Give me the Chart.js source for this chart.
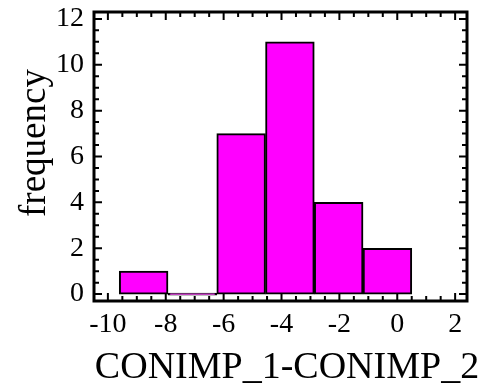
<!DOCTYPE html>
<html>
<head>
<meta charset="utf-8">
<script src="https://cdn.jsdelivr.net/npm/chart.js@4/dist/chart.umd.min.js"></script>
<style>
  html, body { margin: 0; padding: 0; background: #ffffff; }
  #wrap { width: 492px; height: 391px; }
</style>
</head>
<body>
<div id="wrap"><canvas id="histChart" width="492" height="391"></canvas></div>
<script>
// histogram bins
const binEdges = [-9.61, -7.92, -6.24, -4.55, -2.87, -1.18, 0.5];
const binCounts = [1, 0, 7, 11, 4, 2];
const xTicks = [-10, -8, -6, -4, -2, 0, 2];
const yTicks = [0, 2, 4, 6, 8, 10, 12];
const xTitle = 'CONIMP_1-CONIMP_2';
const yTitle = 'frequency';

const serif = "'Liberation Serif', 'DejaVu Serif', serif";

const barPoints = binCounts.map(function (c, i) {
  return { x: (binEdges[i] + binEdges[i + 1]) / 2, y: c };
});

// frame, inward tick marks on all four sides, axis titles
const framePlugin = {
  id: 'frame',
  afterDatasetsDraw(chart) {
    const ctx = chart.ctx;
    const a = chart.chartArea;
    const xs = chart.scales.x;
    const ys = chart.scales.y;
    ctx.save();
    ctx.strokeStyle = '#000';
    ctx.lineWidth = 2;
    ctx.beginPath();
    for (let v = -10; v <= 2.001; v += 0.5) {
      const px = xs.getPixelForValue(v);
      const len = Math.abs(v - Math.round(v / 2) * 2) < 1e-6 ? 8 : 5;
      ctx.moveTo(px, a.bottom); ctx.lineTo(px, a.bottom - len);
      ctx.moveTo(px, a.top); ctx.lineTo(px, a.top + len);
    }
    for (let v = 0; v <= 12.001; v += 0.5) {
      const py = ys.getPixelForValue(v);
      const len = Math.abs(v - Math.round(v / 2) * 2) < 1e-6 ? 8 : 5;
      ctx.moveTo(a.left, py); ctx.lineTo(a.left + len, py);
      ctx.moveTo(a.right, py); ctx.lineTo(a.right - len, py);
    }
    ctx.stroke();
    ctx.lineWidth = 3;
    ctx.strokeRect(a.left, a.top, a.right - a.left, a.bottom - a.top);

    // axis titles
    ctx.fillStyle = '#000';
    ctx.textBaseline = 'alphabetic';
    ctx.textAlign = 'center';
    ctx.font = '38px ' + serif;
    ctx.fillText(xTitle, 287, 378);
    ctx.translate(45, 143);
    ctx.rotate(-Math.PI / 2);
    ctx.font = '37px ' + serif;
    ctx.fillText(yTitle, 0, 0);
    ctx.restore();
  }
};

new Chart(document.getElementById('histChart').getContext('2d'), {
  type: 'bar',
  data: {
    datasets: [{
      data: barPoints,
      backgroundColor: '#FF00FF',
      borderColor: '#000000',
      borderWidth: 2,
      borderSkipped: false,
      minBarLength: 2,
      barPercentage: 1,
      categoryPercentage: 1
    }]
  },
  options: {
    responsive: false,
    animation: false,
    layout: { padding: { left: 0, right: 25, top: 12, bottom: 0 } },
    plugins: { legend: { display: false }, tooltip: { enabled: false } },
    scales: {
      x: {
        type: 'linear',
        min: -10.48,
        max: 2.41,
        offset: false,
        afterBuildTicks: function (s) { s.ticks = xTicks.map(function (v) { return { value: v }; }); },
        afterFit: function (s) {
          s.height = 90;
          s.paddingLeft = 0; s.paddingRight = 0;
        },
        grid: { display: false, drawTicks: false },
        border: { display: false },
        ticks: {
          color: '#000',
          font: { family: serif, size: 28 },
          padding: 7,
          maxRotation: 0,
          autoSkip: false
        },
        title: { display: false }
      },
      y: {
        min: -0.3,
        max: 12.3,
        afterBuildTicks: function (s) { s.ticks = yTicks.map(function (v) { return { value: v }; }); },
        afterFit: function (s) {
          s.width = 94;
          s.paddingTop = 0; s.paddingBottom = 0;
        },
        grid: { display: false, drawTicks: false },
        border: { display: false },
        ticks: {
          color: '#000',
          font: { family: serif, size: 28 },
          padding: 10
        },
        title: { display: false }
      }
    }
  },
  plugins: [framePlugin]
});
</script>
</body>
</html>
